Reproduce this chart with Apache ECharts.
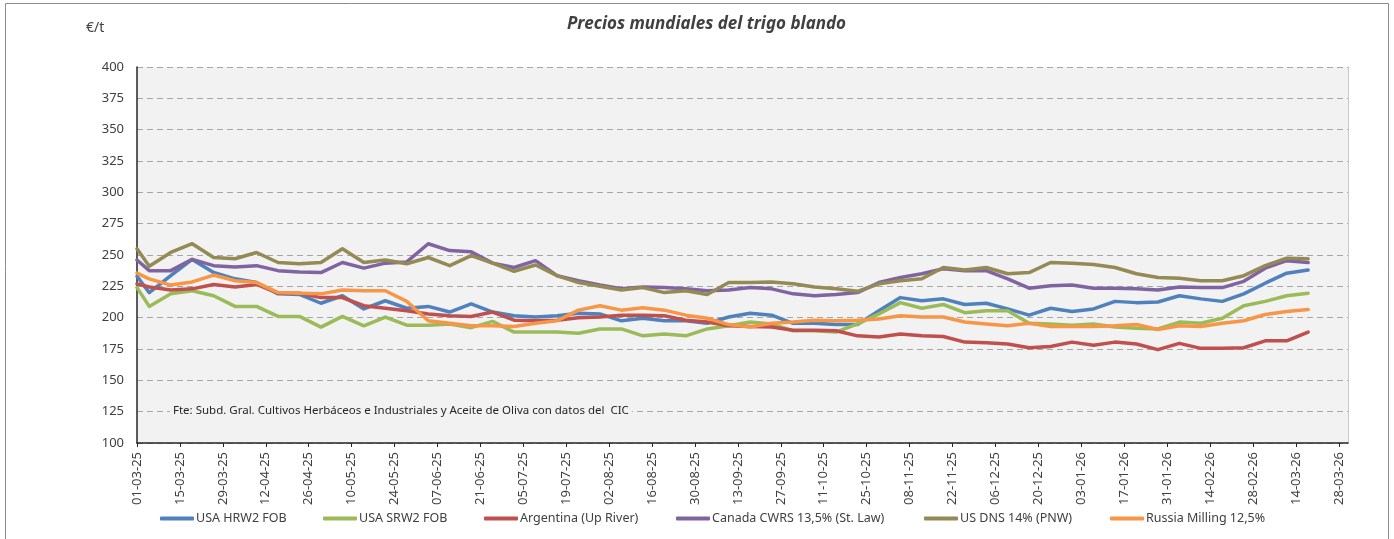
<!DOCTYPE html>
<html>
<head>
<meta charset="utf-8">
<script src="https://cdn.jsdelivr.net/npm/echarts@6/dist/echarts.min.js"></script>
<style>
  html, body { margin: 0; padding: 0; background: #fff; }
  #chart { width: 1394px; height: 539px; }
</style>
</head>
<body>
<div id="chart"></div>
<script>
// fechas de cotización (semanal)
var dates = [
  '2025-03-01','2025-03-05','2025-03-12','2025-03-19','2025-03-26','2025-04-02','2025-04-09','2025-04-16',
  '2025-04-23','2025-04-30','2025-05-07','2025-05-14','2025-05-21','2025-05-28','2025-06-04','2025-06-11',
  '2025-06-18','2025-06-25','2025-07-02','2025-07-09','2025-07-16','2025-07-23','2025-07-30','2025-08-06',
  '2025-08-13','2025-08-20','2025-08-27','2025-09-03','2025-09-10','2025-09-17','2025-09-24','2025-10-01',
  '2025-10-08','2025-10-15','2025-10-22','2025-10-29','2025-11-05','2025-11-12','2025-11-19','2025-11-26',
  '2025-12-03','2025-12-10','2025-12-17','2025-12-24','2025-12-31','2026-01-07','2026-01-14','2026-01-21',
  '2026-01-28','2026-02-04','2026-02-11','2026-02-18','2026-02-25','2026-03-04','2026-03-11','2026-03-18'
];

var tickLabels = [
  '01-03-25','15-03-25','29-03-25','12-04-25','26-04-25','10-05-25','24-05-25','07-06-25',
  '21-06-25','05-07-25','19-07-25','02-08-25','16-08-25','30-08-25','13-09-25','27-09-25',
  '11-10-25','25-10-25','08-11-25','22-11-25','06-12-25','20-12-25','03-01-26','17-01-26',
  '31-01-26','14-02-26','28-02-26','14-03-26','28-03-26'
];

var yTicks = [100, 125, 150, 175, 200, 225, 250, 275, 300, 325, 350, 375, 400];

var hrw2 = [233, 220, 233.5, 246.5, 236, 231, 228, 219, 218.5, 211.5, 217.5, 207, 213.5, 207.5, 209, 204.5,
  211, 204.5, 201.5, 200.5, 201.5, 203.5, 203, 197.5, 199.5, 197.5, 197.5, 195.5, 200.5, 203.5, 202, 195.5,
  195.5, 194.5, 194.5, 205.5, 216, 213.5, 215, 210.5, 211.5, 207, 202, 207.5, 205, 207, 213, 212,
  212.5, 217.5, 215, 213, 219, 227.5, 235.5, 238];

var srw2 = [224, 209, 219, 221.5, 217.5, 209, 209, 201, 201, 192.5, 201, 193.5, 200.5, 194, 194, 195,
  192, 197, 188.5, 188.5, 188.5, 187.5, 191, 191, 185.5, 187, 185.5, 191, 193.5, 196.5, 195, 189.5,
  189.5, 188.5, 195, 203, 212, 207.5, 210.5, 204, 205.5, 205.5, 195.5, 195, 194, 195, 192.5, 191.5,
  191, 196.5, 195.5, 199.5, 209.5, 213, 217.5, 219.5];

var argentina = [227, 224.5, 222, 223, 226.5, 224.5, 226.5, 219.5, 219.5, 216, 216, 209.5, 207.5, 205.5, 203, 201.5,
  201, 204.5, 198, 197.5, 198, 200, 200.5, 202, 202, 201.5, 198, 196.5, 193.5, 193, 192.5, 190,
  190, 189.5, 185.5, 184.5, 187, 185.5, 185, 180.5, 180, 179, 176, 177, 180.5, 178, 180.5, 179,
  174.5, 179.5, 175.5, 175.5, 176, 181.5, 181.5, 188.5];

var canada = [246, 237.5, 237.5, 246.5, 241.5, 240.5, 241.5, 237.5, 236.5, 236, 244, 239.5, 243.5, 244.5, 259, 253.5,
  252.5, 243.5, 240, 245.5, 233.5, 229.5, 226, 223, 224.5, 224, 223, 221.5, 222, 224, 223, 219,
  217.5, 218.5, 220, 228, 232, 235, 239, 237.5, 237.5, 231, 223.5, 225.5, 226, 223.5, 223.5, 223,
  222, 224.5, 224, 224, 229, 239.5, 245.5, 244];

var usDns = [255, 241, 252, 259, 248, 247, 252, 244, 243, 244, 255, 244, 246, 243, 248, 241.5,
  249.5, 243.5, 237, 242, 233.5, 228, 225, 222, 224, 220, 221.5, 218.5, 228, 228, 228.5, 227,
  224.5, 223, 221, 227, 229.5, 231, 240, 238, 240, 235, 236, 244, 243.5, 242.5, 240, 235,
  232, 231.5, 229.5, 229.5, 233.5, 241.5, 247.5, 247];

var russia = [235.5, 231, 226, 228.5, 234, 229.5, 228, 220, 219.5, 219, 222, 221.5, 221.5, 213, 197.5, 195.5,
  193.5, 193.5, 193, 195.5, 197.5, 206, 209.5, 206, 208, 206, 202, 199.5, 194.5, 192.5, 195.5, 196.5,
  198, 197.5, 198, 199, 201.5, 200.5, 200.5, 196.5, 195, 193.5, 195.5, 193, 193, 193, 193.5, 194.5,
  190.5, 193.5, 193, 195.5, 197.5, 202.5, 205, 206.5];

var seriesNames = ['USA HRW2 FOB', 'USA SRW2 FOB', 'Argentina (Up River)', 'Canada CWRS 13,5% (St. Law)', 'US DNS 14% (PNW)', 'Russia Milling 12,5%'];
var seriesValues = [hrw2, srw2, argentina, canada, usDns, russia];
var colors = ['#4F81BD', '#9BBB59', '#C0504D', '#8064A2', '#948A54', '#F79646'];

var DAY = 86400000;
var start = Date.UTC(2025, 2, 1);
function dayOf(s) {
  var p = s.split('-');
  return Math.round((Date.UTC(+p[0], +p[1] - 1, +p[2]) - start) / DAY);
}
function dayOfLabel(s) {
  var p = s.split('-');
  return dayOf('20' + p[2] + '-' + p[1] + '-' + p[0]);
}
var tickDays = tickLabels.map(dayOfLabel);
var labelByDay = {};
tickDays.forEach(function (d, i) { labelByDay[d] = tickLabels[i]; });

var font = 'Noto Sans';
var chart = echarts.init(document.getElementById('chart'));

var legendLeft = [155, 318, 479, 671, 919, 1105];

var option = {
  animation: false,
  color: colors,
  graphic: [
    {
      type: 'rect', silent: true, z: -10,
      shape: { x: 5.5, y: 3.5, width: 1383, height: 545 },
      style: { fill: 'none', stroke: '#8c8c8c', lineWidth: 1 }
    },
    {
      type: 'text', left: 86, top: 21,
      style: { text: '€/t', font: '14px "Noto Sans"', fill: '#404040' }
    },
    {
      type: 'text', left: 567, top: 16,
      style: { text: 'Precios mundiales del trigo blando', font: 'italic bold 17px "Noto Sans"', fill: '#404040' }
    },
    {
      type: 'text', left: 170, top: 404, z: 50,
      style: {
        text: 'Fte: Subd. Gral. Cultivos Herbáceos e Industriales y Aceite de Oliva con datos del  CIC',
        font: '11.5px "Noto Sans"', fill: '#262626',
        backgroundColor: '#f2f2f2', padding: [1, 3]
      }
    }
  ],
  legend: seriesNames.map(function (n, i) {
    return {
      data: [n], left: legendLeft[i], top: 507,
      itemWidth: 34, itemHeight: 4, itemGap: 0, icon: 'roundRect',
      textStyle: { fontFamily: font, fontSize: 12.5, color: '#404040', padding: [0, 0, 0, -3] }
    };
  }),
  grid: {
    left: 137, top: 67, right: 46, bottom: 96,
    show: true, backgroundColor: '#f2f2f2', borderWidth: 0
  },
  xAxis: {
    type: 'value', min: 0, max: 395, interval: 14,
    axisLine: { show: true, onZero: false, lineStyle: { color: '#262626', width: 1.5 } },
    axisTick: { show: true, length: 4, customValues: tickDays, lineStyle: { color: '#262626' } },
    splitLine: { show: false },
    axisLabel: {
      customValues: tickDays, rotate: 90, margin: 9,
      fontFamily: font, fontSize: 13, color: '#404040',
      formatter: function (v) { return labelByDay[v] || ''; }
    }
  },
  yAxis: [
    {
      type: 'value', min: 100, max: 400, interval: 25,
      axisLine: { show: true, lineStyle: { color: '#262626', width: 1.5 } },
      axisTick: { show: false },
      splitLine: { show: true, lineStyle: { color: '#a6a6a6', type: [6, 4], width: 1 } },
      axisLabel: {
        customValues: yTicks, margin: 13,
        fontFamily: font, fontSize: 13, color: '#404040'
      }
    },
    {
      type: 'value', min: 100, max: 400, interval: 25, position: 'right',
      axisLine: { show: true, lineStyle: { color: '#c8c8c8', width: 1 } },
      axisTick: { show: false }, axisLabel: { show: false }, splitLine: { show: false }
    }
  ],
  series: seriesNames.map(function (n, i) {
    return {
      name: n, type: 'line', symbol: 'none', clip: true,
      lineStyle: { width: 3.5, color: colors[i], cap: 'round', join: 'round' },
      itemStyle: { color: colors[i] },
      data: dates.map(function (d, k) { return [dayOf(d), seriesValues[i][k]]; })
    };
  })
};

chart.setOption(option);
</script>
</body>
</html>
